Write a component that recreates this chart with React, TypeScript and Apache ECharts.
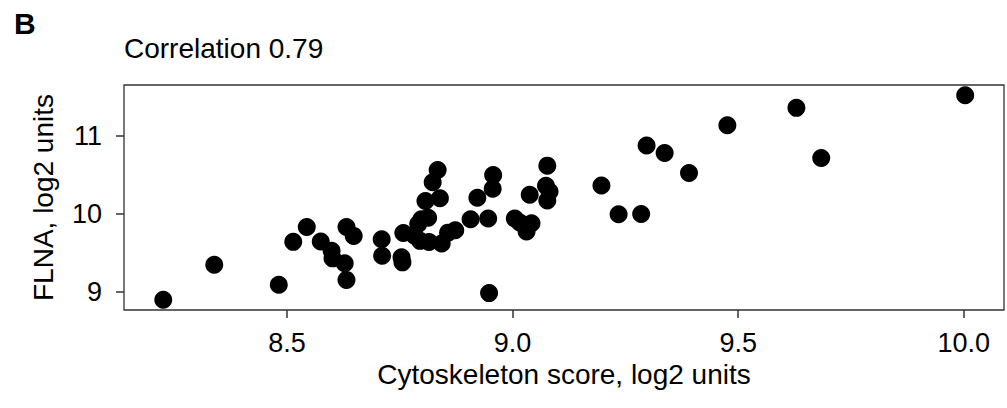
import React, { useEffect, useRef } from "react";
import * as echarts from "echarts";

const xValues: number[] = [
  8.226, 8.339, 8.482, 8.514, 8.544, 8.575, 8.599, 8.601, 8.628, 8.632,
  8.648, 8.632, 8.710, 8.711, 8.758, 8.754, 8.756, 8.783, 8.791, 8.798,
  8.813, 8.795, 8.815, 8.843, 8.807, 8.839, 8.823, 8.834, 8.857, 8.873,
  8.907, 8.922, 8.946, 8.957, 8.956, 8.948, 9.005, 9.016, 9.031, 9.042,
  9.038, 9.077, 9.074, 9.082, 9.077, 9.197, 9.235, 9.285, 9.297, 9.337,
  9.391, 9.476, 9.629, 9.684, 10.003,
];
const yValues: number[] = [
  8.902, 9.350, 9.093, 9.642, 9.832, 9.647, 9.528, 9.431, 9.368, 9.832,
  9.718, 9.156, 9.676, 9.465, 9.755, 9.444, 9.380, 9.720, 9.870, 9.930,
  9.950, 9.655, 9.640, 9.620, 10.165, 10.200, 10.404, 10.560, 9.760, 9.790,
  9.930, 10.205, 9.940, 10.495, 10.320, 8.987, 9.940, 9.890, 9.775, 9.880,
  10.245, 10.616, 10.360, 10.285, 10.170, 10.362, 9.994, 9.998, 10.873, 10.777,
  10.523, 11.132, 11.355, 10.713, 11.516,
];
const xTicks: number[] = [8.5, 9.0, 9.5, 10.0];
const yTicks: number[] = [9, 10, 11];

const panelLabel = "B";
const chartTitle = "Correlation 0.79";
const xTitle = "Cytoskeleton score, log2 units";
const yTitle = "FLNA, log2 units";

export default function App() {
  const ref = useRef<HTMLDivElement>(null);
  useEffect(() => {
    if (!ref.current) return;
    const chart = echarts.init(ref.current, undefined, { renderer: "svg" });
    const font = "Liberation Sans, Arial, Helvetica, sans-serif";
    const data = xValues.map((x, i) => [x, yValues[i]]);
    chart.setOption({
      animation: false,
      backgroundColor: "#ffffff",
      textStyle: { fontFamily: font },
      graphic: [
        {
          type: "text",
          left: 14,
          top: 8,
          style: { text: panelLabel, font: `bold 30px ${font}`, fill: "#000" },
        },
        {
          type: "text",
          x: 124,
          y: 48,
          style: {
            text: chartTitle,
            fontSize: 28,
            fontFamily: font,
            fill: "#000",
            verticalAlign: "middle",
          },
        },
      ],
      grid: {
        left: 124,
        right: 3,
        top: 85,
        bottom: 98,
        show: true,
        borderColor: "#333333",
        borderWidth: 1.3,
        backgroundColor: "#ffffff",
      },
      xAxis: {
        type: "value",
        min: 8.139,
        max: 10.089,
        name: xTitle,
        nameLocation: "middle",
        nameGap: 50,
        nameTextStyle: { fontSize: 28, color: "#000", fontFamily: font },
        axisLine: { show: false },
        splitLine: { show: false },
        axisTick: {
          show: true,
          length: 8,
          customValues: xTicks,
          lineStyle: { color: "#333333", width: 1.5 },
        },
        axisLabel: {
          customValues: xTicks,
          formatter: (v: number) => v.toFixed(1),
          fontSize: 27,
          color: "#000",
          margin: 19,
          fontFamily: font,
        },
      },
      yAxis: {
        type: "value",
        min: 8.771,
        max: 11.647,
        name: yTitle,
        nameLocation: "middle",
        nameGap: 67,
        nameTextStyle: { fontSize: 28, color: "#000", fontFamily: font },
        axisLine: { show: false },
        splitLine: { show: false },
        axisTick: {
          show: true,
          length: 8,
          customValues: yTicks,
          lineStyle: { color: "#333333", width: 1.5 },
        },
        axisLabel: {
          customValues: yTicks,
          formatter: (v: number) => String(v),
          fontSize: 27,
          color: "#000",
          margin: 22,
          fontFamily: font,
        },
      },
      series: [
        {
          type: "scatter",
          data,
          symbol: "circle",
          symbolSize: 18,
          itemStyle: { color: "#000000", opacity: 1 },
        },
      ],
    });
    return () => chart.dispose();
  }, []);
  return (
    <div
      ref={ref}
      style={{ position: "fixed", left: 0, top: 0, width: 1007, height: 408 }}
    />
  );
}
